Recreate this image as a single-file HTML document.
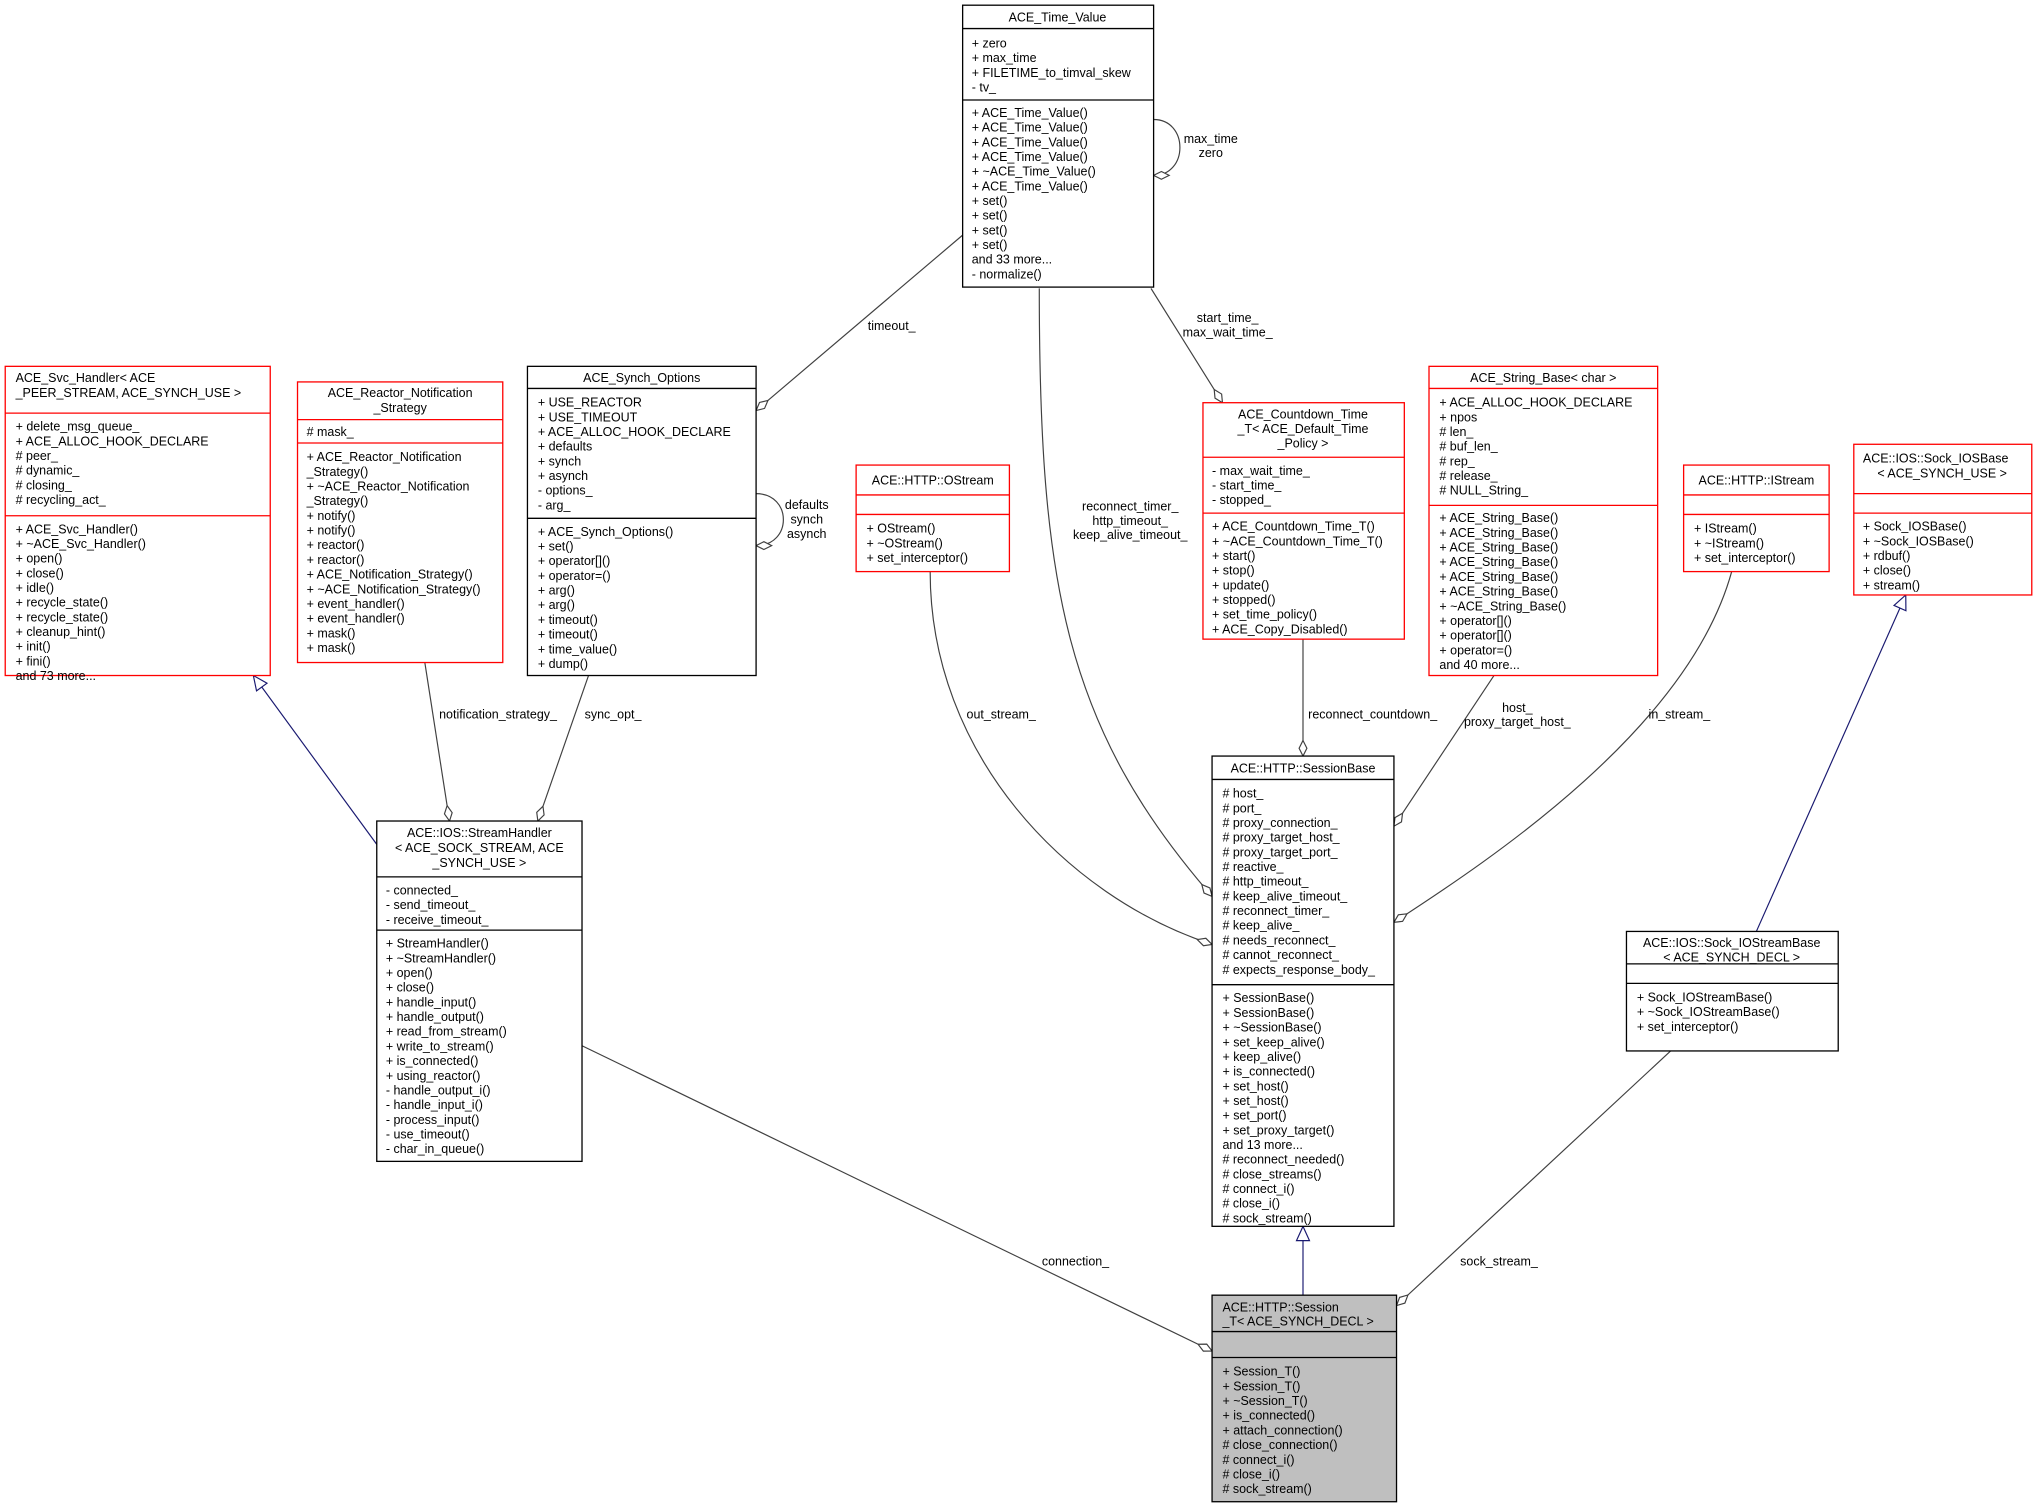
<!DOCTYPE html>
<html><head><meta charset="utf-8"><style>
html,body{margin:0;padding:0;background:#fff}
svg{display:block}
text{font-family:"Liberation Sans",sans-serif;font-size:9.6px;fill:#000}
.t{text-anchor:middle}
.b{fill:#fff;stroke:#000;stroke-width:1}
.r{fill:#fff;stroke:#f00;stroke-width:1}
.e{fill:none;stroke:#404040;stroke-width:0.9}
.n{fill:none;stroke:#191970;stroke-width:0.9}
</style></head><body>
<svg width="2037" height="1509" viewBox="0 0 1568 1161.6" xmlns="http://www.w3.org/2000/svg">
<defs>
<marker id="d" markerWidth="14" markerHeight="8" refX="13" refY="4" orient="auto" markerUnits="userSpaceOnUse"><path d="M1,4 L7,1 L13,4 L7,7 Z" fill="#fff" stroke="#404040" stroke-width="0.9"/></marker>
<marker id="tr" markerWidth="13" markerHeight="12" refX="12" refY="6" orient="auto" markerUnits="userSpaceOnUse"><path d="M1,1 L12,6 L1,11 Z" fill="#fff" stroke="#191970" stroke-width="0.9"/></marker>
</defs>

<!-- edges -->
<path class="e" d="M741,181 L582,316" marker-end="url(#d)"/>
<text x="668" y="254">timeout_</text>
<path class="e" d="M582,380 C610,380 610,420 582,420" marker-end="url(#d)"/>
<text class="t" x="621" y="392">defaults</text><text class="t" x="621" y="403">synch</text><text class="t" x="621" y="414">asynch</text>
<path class="e" d="M888,92 C915,92 915,135 888,135" marker-end="url(#d)"/>
<text class="t" x="932" y="110">max_time</text><text class="t" x="932" y="121">zero</text>
<path class="e" d="M886,222 L941,310" marker-end="url(#d)"/>
<text class="t" x="945" y="248">start_time_</text><text class="t" x="945" y="259">max_wait_time_</text>
<path class="e" d="M800,222 C800,450 820,560 933,690" marker-end="url(#d)"/>
<text class="t" x="870" y="393">reconnect_timer_</text><text class="t" x="870" y="404">http_timeout_</text><text class="t" x="870" y="415">keep_alive_timeout_</text>
<path class="e" d="M716,440 C716,580 820,690 933,727" marker-end="url(#d)"/>
<text x="744" y="553">out_stream_</text>
<path class="e" d="M1003,492 L1003,582" marker-end="url(#d)"/>
<text x="1007" y="553">reconnect_countdown_</text>
<path class="e" d="M1150,520 L1073,636" marker-end="url(#d)"/>
<text class="t" x="1168" y="548">host_</text><text class="t" x="1168" y="559">proxy_target_host_</text>
<path class="e" d="M1333,440 C1300,560 1150,660 1073,710" marker-end="url(#d)"/>
<text x="1269" y="553">in_stream_</text>
<path class="n" d="M290,650 L195,520" marker-end="url(#tr)"/>
<path class="e" d="M327,510 L346,632" marker-end="url(#d)"/>
<text x="338" y="553">notification_strategy_</text>
<path class="e" d="M453,520 L414,632" marker-end="url(#d)"/>
<text x="450" y="553">sync_opt_</text>
<path class="n" d="M1352,717 L1467,458" marker-end="url(#tr)"/>
<path class="n" d="M1003,997 L1003,944" marker-end="url(#tr)"/>
<path class="e" d="M448,805 L933,1040" marker-end="url(#d)"/>
<text x="802" y="974">connection_</text>
<path class="e" d="M1286,809 L1075,1005" marker-end="url(#d)"/>
<text x="1124" y="974">sock_stream_</text>

<!-- ACE_Time_Value -->
<rect class="b" x="741" y="4" width="147" height="217"/>
<line x1="741" y1="22" x2="888" y2="22" stroke="#000"/><line x1="741" y1="77" x2="888" y2="77" stroke="#000"/>
<text class="t" x="814" y="16.5">ACE_Time_Value</text>
<text x="748" y="36.5">+ zero</text><text x="748" y="47.8">+ max_time</text><text x="748" y="59.1">+ FILETIME_to_timval_skew</text><text x="748" y="70.4">- tv_</text>
<text x="748" y="90">+ ACE_Time_Value()</text><text x="748" y="101.3">+ ACE_Time_Value()</text><text x="748" y="112.6">+ ACE_Time_Value()</text><text x="748" y="123.9">+ ACE_Time_Value()</text><text x="748" y="135.2">+ ~ACE_Time_Value()</text><text x="748" y="146.5">+ ACE_Time_Value()</text><text x="748" y="157.8">+ set()</text><text x="748" y="169.1">+ set()</text><text x="748" y="180.4">+ set()</text><text x="748" y="191.7">+ set()</text><text x="748" y="203">and 33 more...</text><text x="748" y="214.3">- normalize()</text>

<!-- ACE_Svc_Handler -->
<rect class="r" x="4" y="282" width="204" height="238"/>
<line x1="4" y1="318" x2="208" y2="318" stroke="#f00"/><line x1="4" y1="397" x2="208" y2="397" stroke="#f00"/>
<text x="12" y="294">ACE_Svc_Handler&lt; ACE</text><text x="12" y="305.5">_PEER_STREAM, ACE_SYNCH_USE &gt;</text>
<text x="12" y="331.5">+ delete_msg_queue_</text><text x="12" y="342.8">+ ACE_ALLOC_HOOK_DECLARE</text><text x="12" y="354.1"># peer_</text><text x="12" y="365.4"># dynamic_</text><text x="12" y="376.7"># closing_</text><text x="12" y="388"># recycling_act_</text>
<text x="12" y="410.5">+ ACE_Svc_Handler()</text><text x="12" y="421.8">+ ~ACE_Svc_Handler()</text><text x="12" y="433.1">+ open()</text><text x="12" y="444.4">+ close()</text><text x="12" y="455.7">+ idle()</text><text x="12" y="467">+ recycle_state()</text><text x="12" y="478.3">+ recycle_state()</text><text x="12" y="489.6">+ cleanup_hint()</text><text x="12" y="500.9">+ init()</text><text x="12" y="512.2">+ fini()</text><text x="12" y="523.5">and 73 more...</text>

<!-- Reactor Notification -->
<rect class="r" x="229" y="294" width="158" height="216"/>
<line x1="229" y1="323" x2="387" y2="323" stroke="#f00"/><line x1="229" y1="341" x2="387" y2="341" stroke="#f00"/>
<text class="t" x="308" y="305.5">ACE_Reactor_Notification</text><text class="t" x="308" y="317">_Strategy</text>
<text x="236" y="335.5"># mask_</text>
<text x="236" y="355">+ ACE_Reactor_Notification</text><text x="236" y="366.3">_Strategy()</text><text x="236" y="377.6">+ ~ACE_Reactor_Notification</text><text x="236" y="388.9">_Strategy()</text><text x="236" y="400.2">+ notify()</text><text x="236" y="411.5">+ notify()</text><text x="236" y="422.8">+ reactor()</text><text x="236" y="434.1">+ reactor()</text><text x="236" y="445.4">+ ACE_Notification_Strategy()</text><text x="236" y="456.7">+ ~ACE_Notification_Strategy()</text><text x="236" y="468">+ event_handler()</text><text x="236" y="479.3">+ event_handler()</text><text x="236" y="490.6">+ mask()</text><text x="236" y="501.9">+ mask()</text>

<!-- Synch Options -->
<rect class="b" x="406" y="282" width="176" height="238"/>
<line x1="406" y1="299" x2="582" y2="299" stroke="#000"/><line x1="406" y1="399" x2="582" y2="399" stroke="#000"/>
<text class="t" x="494" y="294">ACE_Synch_Options</text>
<text x="414" y="313">+ USE_REACTOR</text><text x="414" y="324.3">+ USE_TIMEOUT</text><text x="414" y="335.6">+ ACE_ALLOC_HOOK_DECLARE</text><text x="414" y="346.9">+ defaults</text><text x="414" y="358.2">+ synch</text><text x="414" y="369.5">+ asynch</text><text x="414" y="380.8">- options_</text><text x="414" y="392.1">- arg_</text>
<text x="414" y="412.5">+ ACE_Synch_Options()</text><text x="414" y="423.8">+ set()</text><text x="414" y="435.1">+ operator[]()</text><text x="414" y="446.4">+ operator=()</text><text x="414" y="457.7">+ arg()</text><text x="414" y="469">+ arg()</text><text x="414" y="480.3">+ timeout()</text><text x="414" y="491.6">+ timeout()</text><text x="414" y="502.9">+ time_value()</text><text x="414" y="514.2">+ dump()</text>

<!-- Countdown -->
<rect class="r" x="926" y="310" width="155" height="182"/>
<line x1="926" y1="352" x2="1081" y2="352" stroke="#f00"/><line x1="926" y1="395" x2="1081" y2="395" stroke="#f00"/>
<text class="t" x="1003" y="322">ACE_Countdown_Time</text><text class="t" x="1003" y="333.3">_T&lt; ACE_Default_Time</text><text class="t" x="1003" y="344.6">_Policy &gt;</text>
<text x="933" y="365.5">- max_wait_time_</text><text x="933" y="376.8">- start_time_</text><text x="933" y="388.1">- stopped_</text>
<text x="933" y="408.5">+ ACE_Countdown_Time_T()</text><text x="933" y="419.8">+ ~ACE_Countdown_Time_T()</text><text x="933" y="431.1">+ start()</text><text x="933" y="442.4">+ stop()</text><text x="933" y="453.7">+ update()</text><text x="933" y="465">+ stopped()</text><text x="933" y="476.3">+ set_time_policy()</text><text x="933" y="487.6">+ ACE_Copy_Disabled()</text>

<!-- String Base -->
<rect class="r" x="1100" y="282" width="176" height="238"/>
<line x1="1100" y1="299" x2="1276" y2="299" stroke="#f00"/><line x1="1100" y1="389" x2="1276" y2="389" stroke="#f00"/>
<text class="t" x="1188" y="294">ACE_String_Base&lt; char &gt;</text>
<text x="1108" y="313">+ ACE_ALLOC_HOOK_DECLARE</text><text x="1108" y="324.3">+ npos</text><text x="1108" y="335.6"># len_</text><text x="1108" y="346.9"># buf_len_</text><text x="1108" y="358.2"># rep_</text><text x="1108" y="369.5"># release_</text><text x="1108" y="380.8"># NULL_String_</text>
<text x="1108" y="402">+ ACE_String_Base()</text><text x="1108" y="413.3">+ ACE_String_Base()</text><text x="1108" y="424.6">+ ACE_String_Base()</text><text x="1108" y="435.9">+ ACE_String_Base()</text><text x="1108" y="447.2">+ ACE_String_Base()</text><text x="1108" y="458.5">+ ACE_String_Base()</text><text x="1108" y="469.8">+ ~ACE_String_Base()</text><text x="1108" y="481.1">+ operator[]()</text><text x="1108" y="492.4">+ operator[]()</text><text x="1108" y="503.7">+ operator=()</text><text x="1108" y="515">and 40 more...</text>

<!-- OStream -->
<rect class="r" x="659" y="358" width="118" height="82"/>
<line x1="659" y1="381" x2="777" y2="381" stroke="#f00"/><line x1="659" y1="396" x2="777" y2="396" stroke="#f00"/>
<text class="t" x="718" y="373">ACE::HTTP::OStream</text>
<text x="667" y="410">+ OStream()</text><text x="667" y="421.3">+ ~OStream()</text><text x="667" y="432.6">+ set_interceptor()</text>

<!-- IStream -->
<rect class="r" x="1296" y="358" width="112" height="82"/>
<line x1="1296" y1="381" x2="1408" y2="381" stroke="#f00"/><line x1="1296" y1="396" x2="1408" y2="396" stroke="#f00"/>
<text class="t" x="1352" y="373">ACE::HTTP::IStream</text>
<text x="1304" y="410">+ IStream()</text><text x="1304" y="421.3">+ ~IStream()</text><text x="1304" y="432.6">+ set_interceptor()</text>

<!-- Sock_IOSBase -->
<rect class="r" x="1427" y="342" width="137" height="116"/>
<line x1="1427" y1="380" x2="1564" y2="380" stroke="#f00"/><line x1="1427" y1="395" x2="1564" y2="395" stroke="#f00"/>
<text x="1434" y="356">ACE::IOS::Sock_IOSBase</text><text class="t" x="1495" y="367.5">&lt; ACE_SYNCH_USE &gt;</text>
<text x="1434" y="408.5">+ Sock_IOSBase()</text><text x="1434" y="419.8">+ ~Sock_IOSBase()</text><text x="1434" y="431.1">+ rdbuf()</text><text x="1434" y="442.4">+ close()</text><text x="1434" y="453.7">+ stream()</text>

<!-- StreamHandler -->
<rect class="b" x="290" y="632" width="158" height="262"/>
<line x1="290" y1="675" x2="448" y2="675" stroke="#000"/><line x1="290" y1="716" x2="448" y2="716" stroke="#000"/>
<text class="t" x="369" y="644.5">ACE::IOS::StreamHandler</text><text class="t" x="369" y="656">&lt; ACE_SOCK_STREAM, ACE</text><text class="t" x="369" y="667.5">_SYNCH_USE &gt;</text>
<text x="297" y="688.5">- connected_</text><text x="297" y="699.8">- send_timeout_</text><text x="297" y="711.1">- receive_timeout_</text>
<text x="297" y="729.5">+ StreamHandler()</text><text x="297" y="740.8">+ ~StreamHandler()</text><text x="297" y="752.1">+ open()</text><text x="297" y="763.4">+ close()</text><text x="297" y="774.7">+ handle_input()</text><text x="297" y="786">+ handle_output()</text><text x="297" y="797.3">+ read_from_stream()</text><text x="297" y="808.6">+ write_to_stream()</text><text x="297" y="819.9">+ is_connected()</text><text x="297" y="831.2">+ using_reactor()</text><text x="297" y="842.5">- handle_output_i()</text><text x="297" y="853.8">- handle_input_i()</text><text x="297" y="865.1">- process_input()</text><text x="297" y="876.4">- use_timeout()</text><text x="297" y="887.7">- char_in_queue()</text>

<!-- SessionBase -->
<rect class="b" x="933" y="582" width="140" height="362"/>
<line x1="933" y1="600" x2="1073" y2="600" stroke="#000"/><line x1="933" y1="758" x2="1073" y2="758" stroke="#000"/>
<text class="t" x="1003" y="594.5">ACE::HTTP::SessionBase</text>
<text x="941" y="614"># host_</text><text x="941" y="625.3"># port_</text><text x="941" y="636.6"># proxy_connection_</text><text x="941" y="647.9"># proxy_target_host_</text><text x="941" y="659.2"># proxy_target_port_</text><text x="941" y="670.5"># reactive_</text><text x="941" y="681.8"># http_timeout_</text><text x="941" y="693.1"># keep_alive_timeout_</text><text x="941" y="704.4"># reconnect_timer_</text><text x="941" y="715.7"># keep_alive_</text><text x="941" y="727"># needs_reconnect_</text><text x="941" y="738.3"># cannot_reconnect_</text><text x="941" y="749.6"># expects_response_body_</text>
<text x="941" y="771.5">+ SessionBase()</text><text x="941" y="782.8">+ SessionBase()</text><text x="941" y="794.1">+ ~SessionBase()</text><text x="941" y="805.4">+ set_keep_alive()</text><text x="941" y="816.7">+ keep_alive()</text><text x="941" y="828">+ is_connected()</text><text x="941" y="839.3">+ set_host()</text><text x="941" y="850.6">+ set_host()</text><text x="941" y="861.9">+ set_port()</text><text x="941" y="873.2">+ set_proxy_target()</text><text x="941" y="884.5">and 13 more...</text><text x="941" y="895.8"># reconnect_needed()</text><text x="941" y="907.1"># close_streams()</text><text x="941" y="918.4"># connect_i()</text><text x="941" y="929.7"># close_i()</text><text x="941" y="941"># sock_stream()</text>

<!-- Sock_IOStreamBase -->
<rect class="b" x="1252" y="717" width="163" height="92"/>
<line x1="1252" y1="742" x2="1415" y2="742" stroke="#000"/><line x1="1252" y1="757" x2="1415" y2="757" stroke="#000"/>
<text class="t" x="1333" y="729">ACE::IOS::Sock_IOStreamBase</text><text class="t" x="1333" y="740">&lt; ACE_SYNCH_DECL &gt;</text>
<text x="1260" y="771">+ Sock_IOStreamBase()</text><text x="1260" y="782.3">+ ~Sock_IOStreamBase()</text><text x="1260" y="793.6">+ set_interceptor()</text>

<!-- Session_T -->
<rect x="933" y="997" width="142" height="159" fill="#bfbfbf" stroke="#000"/>
<line x1="933" y1="1025" x2="1075" y2="1025" stroke="#000"/><line x1="933" y1="1045" x2="1075" y2="1045" stroke="#000"/>
<text x="941" y="1009.5">ACE::HTTP::Session</text><text x="941" y="1020.5">_T&lt; ACE_SYNCH_DECL &gt;</text>
<text x="941" y="1059">+ Session_T()</text><text x="941" y="1070.3">+ Session_T()</text><text x="941" y="1081.6">+ ~Session_T()</text><text x="941" y="1092.9">+ is_connected()</text><text x="941" y="1104.2">+ attach_connection()</text><text x="941" y="1115.5"># close_connection()</text><text x="941" y="1126.8"># connect_i()</text><text x="941" y="1138.1"># close_i()</text><text x="941" y="1149.4"># sock_stream()</text>
</svg>
</body></html>
